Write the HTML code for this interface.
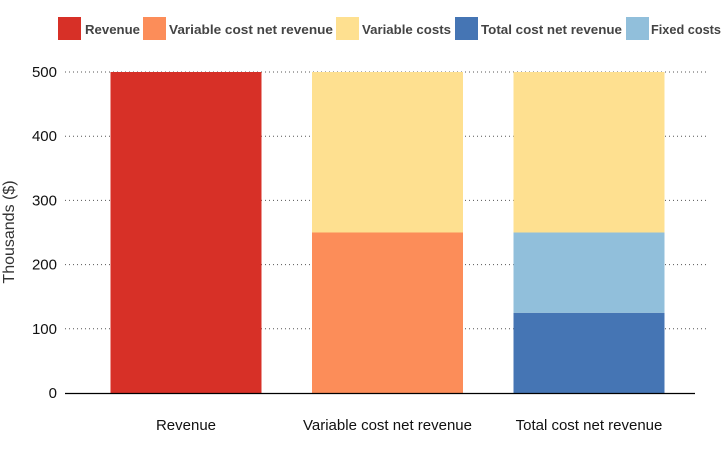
<!DOCTYPE html>
<html><head><meta charset="utf-8"><style>
html,body{margin:0;padding:0;background:#fff;}
svg{display:block;font-family:"Liberation Sans",Arial,sans-serif;}
</style></head><body>
<svg id="chart" width="727" height="449">
<g id="legend"></g>
<g id="grid"></g>
<g id="bars"></g>
<g id="yaxis"></g>
<g id="xaxis"></g>
<text transform="translate(14,232) rotate(-90)" text-anchor="middle" font-size="16" fill="#333">Thousands ($)</text>
</svg>
<script>
const categories = ["Revenue", "Variable cost net revenue", "Total cost net revenue"];
const seriesNames = ["Revenue", "Variable cost net revenue", "Variable costs", "Total cost net revenue", "Fixed costs"];
const revenue = [500, 0, 0];
const varNet = [0, 250, 0];
const totalNet = [0, 0, 125];
const fixedCosts = [0, 0, 125];
const varCosts = [0, 250, 250];
const yTicks = [0, 100, 200, 300, 400, 500];

const colors = {"Revenue":"#d73027","Variable cost net revenue":"#fc8d59","Variable costs":"#fee090","Total cost net revenue":"#4575b4","Fixed costs":"#91bfdb"};
const NS = "http://www.w3.org/2000/svg";
const y0 = 393, y1 = 72, vMax = 500;
const y = v => y0 - (v / vMax) * (y0 - y1);
const firstCenter = 186, step = 201.5, barW = 151;
const xc = i => firstCenter + i * step;
function mk(tag, attrs, parent) {
  const e = document.createElementNS(NS, tag);
  for (const k in attrs) e.setAttribute(k, attrs[k]);
  parent.appendChild(e);
  return e;
}
const grid = document.getElementById('grid');
const yaxis = document.getElementById('yaxis');
yTicks.forEach(t => {
  if (t > 0) {
    const l = mk('line', {x1: 65, x2: 709, y1: y(t), y2: y(t), stroke: '#555', 'stroke-width': 1, 'stroke-dasharray': '1,3'}, grid);
    
    
  }
  const tx = mk('text', {x: 57, y: y(t) + 5, 'text-anchor': 'end', 'font-size': 15, fill: '#111'}, yaxis);
  tx.textContent = t;
  
  
});
const bars = document.getElementById('bars');
const stacks = [["Revenue", revenue], ["Variable cost net revenue", varNet], ["Total cost net revenue", totalNet], ["Fixed costs", fixedCosts], ["Variable costs", varCosts]];
categories.forEach((c, i) => {
  let base = 0;
  stacks.forEach(([name, arr]) => {
    const v = arr[i];
    if (!v) return;
    const r = mk('rect', {x: xc(i) - barW / 2, y: y(base + v), width: barW, height: y(base) - y(base + v), fill: colors[name]}, bars);
    
    
    base += v;
  });
});
const xaxis = document.getElementById('xaxis');
const ax = mk('line', {x1: 65, x2: 695, y1: y0 + 0.5, y2: y0 + 0.5, stroke: '#000', 'stroke-width': 1.2}, xaxis);


categories.forEach((c, i) => {
  const t = mk('text', {x: xc(i), y: 430, 'text-anchor': 'middle', 'font-size': 15, fill: '#111'}, xaxis);
  t.textContent = c;
  
  
});
const legend = document.getElementById('legend');
const legSw = [58, 143, 336, 455, 626];
const legTx = [[85, 55], [169, 164], [362, 89], [481, 141], [651, 70]];
seriesNames.forEach((n, i) => {
  const g = mk('g', {}, legend);
  
  
  const s = mk('rect', {x: legSw[i], y: 17, width: 23, height: 23, fill: colors[n]}, g);
  
  
  const t = mk('text', {x: legTx[i][0], y: 34, 'font-size': 13, 'font-weight': 'bold', fill: '#444', textLength: legTx[i][1], lengthAdjust: 'spacingAndGlyphs'}, g);
  t.textContent = n;
  
  
});
</script>
</body></html>
